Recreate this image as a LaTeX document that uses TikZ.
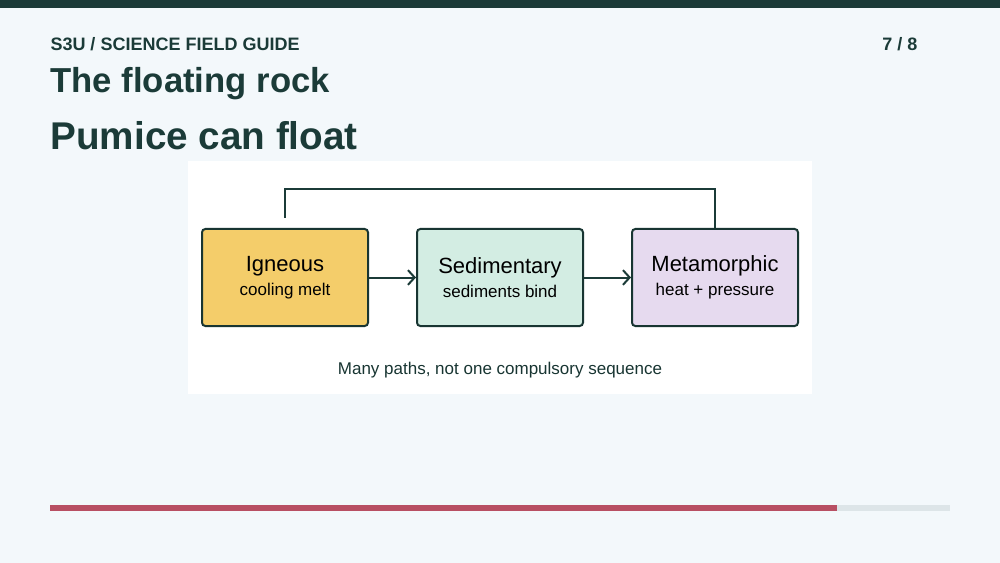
\documentclass[tikz,border=0pt]{standalone}
\usepackage{fontspec}
\setmainfont{Liberation Sans}
\usetikzlibrary{arrows.meta}
\definecolor{ink}{HTML}{1B3B38}
\definecolor{bg}{HTML}{F3F8FB}
\definecolor{ignfill}{HTML}{F4CD6A}
\definecolor{sedfill}{HTML}{D3EDE3}
\definecolor{metfill}{HTML}{E6DAEF}
\definecolor{barred}{HTML}{B84F63}
\definecolor{bargray}{HTML}{DDE5E8}
\tikzset{every picture/.style={line width=0.75pt}}
\tikzset{rock/.style={draw=ink!90!black,line width=1.5pt,rounded corners=2.5pt,minimum width=124.5pt,minimum height=72.75pt,inner sep=0pt,align=center}}
\begin{document}
\begin{tikzpicture}[x=0.75pt,y=0.75pt,yscale=-1,xscale=1]
	%Background
	\fill[bg] (0,0) rectangle (1000,563);
	\fill[ink] (0,0) rectangle (1000,8);
	%Panel
	\fill[white] (188,161) rectangle (812,394);
	%Progress bar
	\fill[bargray] (50,505) rectangle (950,511);
	\fill[barred] (50,505) rectangle (837,511);
	
	% Text Node
	\node (kicker) [anchor=west,inner sep=0pt,text=ink,font=\fontsize{13.5}{16}\selectfont\bfseries] at (50,44) {S3U / SCIENCE FIELD GUIDE};
	% Text Node
	\node (page) [anchor=east,inner sep=0pt,text=ink,font=\fontsize{13.5}{16}\selectfont\bfseries] at (918,44) {7 / 8};
	% Text Node
	\node (title) [anchor=west,inner sep=0pt,text=ink,font=\fontsize{26}{30}\selectfont\bfseries] at (50,84) {The floating rock};
	% Text Node
	\node (head) [anchor=west,inner sep=0pt,text=ink,font=\fontsize{29}{34}\selectfont\bfseries] at (50,136) {Pumice can float};
	
	%Boxes
	\node (ign) [rock,fill=ignfill] at (285,277.5) {\fontsize{16.5}{20}\selectfont Igneous\\[4pt]\fontsize{12.75}{15}\selectfont cooling melt};
	\node (sed) [rock,fill=sedfill] at (500,277.5) {\fontsize{16.5}{20}\selectfont Sedimentary\\[4pt]\fontsize{12.75}{15}\selectfont sediments bind};
	\node (met) [rock,fill=metfill] at (715,277.5) {\fontsize{16.5}{20}\selectfont Metamorphic\\[4pt]\fontsize{12.75}{15}\selectfont heat + pressure};
	
	%Arrows
	\draw [ink,line width=1.5pt,-{Straight Barb[length=5pt,width=11pt]}] (ign) -- (sed);
	\draw [ink,line width=1.5pt,-{Straight Barb[length=5pt,width=11pt]}] (sed) -- (met);
	\coordinate (back) at (285,218);
	\draw [ink,line width=1.5pt] (met.north) |- (500,189) -| (back);
	
	% Text Node
	\node (note) [inner sep=0pt,text=ink!90!black,font=\fontsize{12.75}{15}\selectfont] at (500,370) {Many paths, not one compulsory sequence};
\end{tikzpicture}
\end{document}
